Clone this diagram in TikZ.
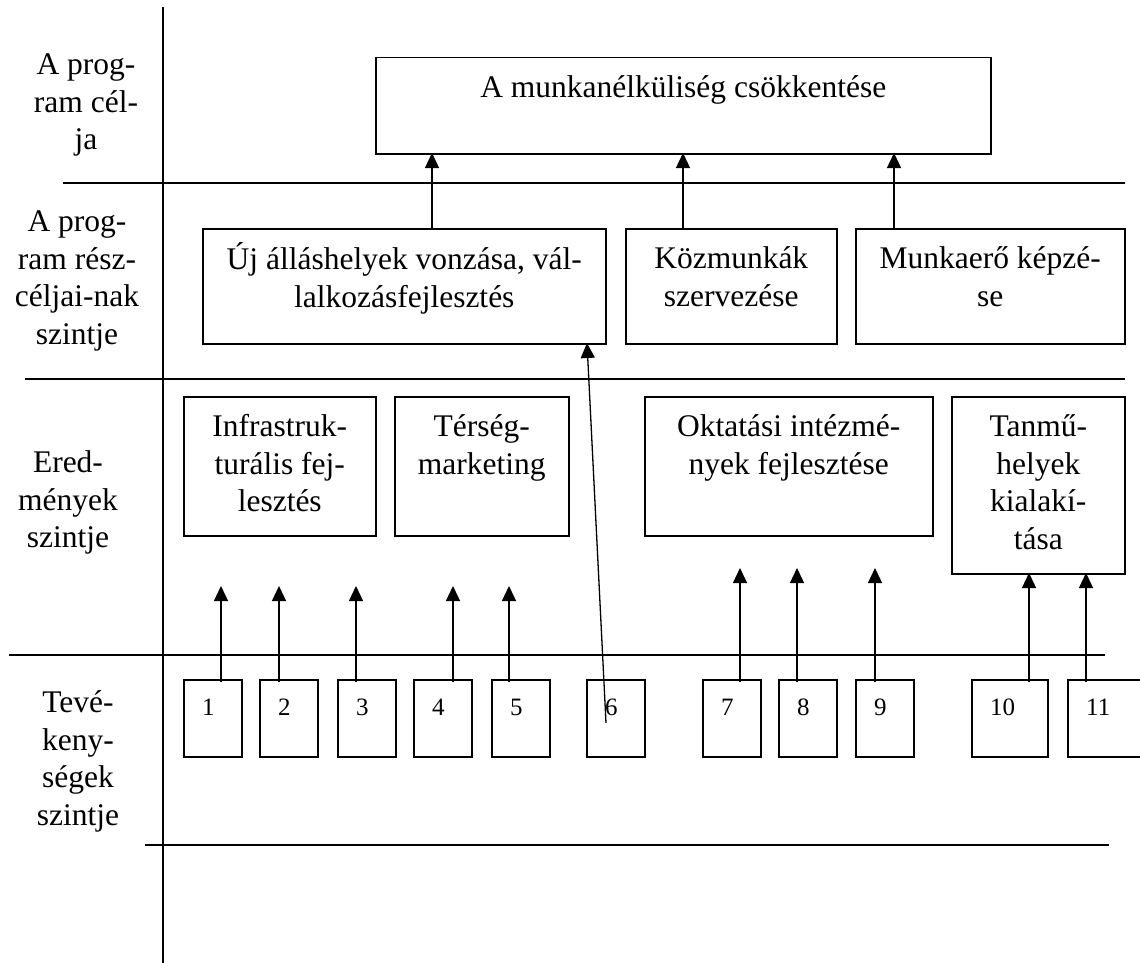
\documentclass[tikz,border=0pt]{standalone}
\usepackage{fontspec}
\setmainfont{Liberation Serif}
\usetikzlibrary{arrows.meta,calc}
\begin{document}
\begin{tikzpicture}[x=1pt,y=-1pt,
  box/.style={draw, line width=1.5pt, anchor=north west, inner sep=0pt},
  txt/.style={anchor=north, align=center, inner sep=0pt, font=\fontsize{31.5}{37.5}\selectfont},
  num/.style={anchor=base west, inner sep=0pt, font=\fontsize{25}{30}\selectfont},
  arr/.style={-{Triangle[width=14pt,length=15pt]}, line width=1.3pt},
  rule/.style={line width=1.3pt}]
\useasboundingbox (0,0) rectangle (1140,963);
\clip (0,0) rectangle (1140,963);
% grid lines
\draw[rule] (163,7) -- (163,963);
\draw[rule] (63,183) -- (1125,183);
\draw[rule] (25,379) -- (1125,379);
\draw[rule] (9,655) -- (1105,655);
\draw[rule] (145,845) -- (1109,845);
% left labels
\node[txt] (l1) at (86,48.5) {\strut A prog-\\ram cél-\\ja};
\node[txt] (l2) at (77,205.5) {\strut A prog-\\ram rész-\\céljai-nak\\szintje};
\node[txt] (l3) at (68,446.5) {\strut Ered-\\mények\\szintje};
\node[txt] (l4) at (78,686.5) {\strut Tevé-\\keny-\\ségek\\szintje};
% goal
\node[box, minimum width=615pt, minimum height=96pt] (goal) at (375,57) {};
\node[txt] (goalt) at ($(goal.north)+(0,14.5)$) {\strut A munkanélküliség csökkentése};
% sub-goals
\node[box, minimum width=403pt, minimum height=115pt] (sA) at (202,228) {};
\node[box, minimum width=211pt, minimum height=115pt] (sB) at (625,228) {};
\node[box, minimum width=269pt, minimum height=115pt] (sC) at (855,228) {};
\node[txt] (sAt) at ($(sA.north)+(0,14.5)$) {\strut Új álláshelyek vonzása, vál-\\lalkozásfejlesztés};
\node[txt] (sBt) at ($(sB.north)+(0,14.5)$) {\strut Közmunkák\\szervezése};
\node[txt] (sCt) at ($(sC.north)+(0,14.5)$) {\strut Munkaerő képzé-\\se};
% results
\node[box, minimum width=192pt, minimum height=139pt] (rInf) at (183,396) {};
\node[box, minimum width=174pt, minimum height=139pt] (rTer) at (394,396) {};
\node[box, minimum width=288pt, minimum height=139pt] (rOkt) at (644,396) {};
\node[box, minimum width=173pt, minimum height=177pt] (rTan) at (951,396) {};
\node[txt] (rInft) at ($(rInf.north)+(0,14.5)$) {\strut Infrastruk-\\turális fej-\\lesztés};
\node[txt] (rTert) at ($(rTer.north)+(0,14.5)$) {\strut Térség-\\marketing};
\node[txt] (rOktt) at ($(rOkt.north)+(0,14.5)$) {\strut Oktatási intézmé-\\nyek fejlesztése};
\node[txt] (rTant) at ($(rTan.north)+(0,14.5)$) {\strut Tanmű-\\helyek\\kialakí-\\tása};
% activities
\foreach \i/\x/\w in {1/183/58, 2/259/58, 3/337/58, 4/413/58, 5/491/58, 6/586/58, 7/702/58, 8/778/58, 9/855/58, 10/971/76, 11/1067/90}{
  \node[box, minimum width=\w pt, minimum height=77pt] (a\i) at (\x,679) {};
  \node[num] (t\i) at ($(a\i.north west)+(19,36)$) {\i};
}
% arrows to goal
\coordinate (g1) at (432,153);
\coordinate (g2) at (683,153);
\coordinate (g3) at (894,153);
\draw[arr] (sA.north -| g1) -- (g1);
\draw[arr] (sB.north -| g2) -- (g2);
\draw[arr] (sC.north -| g3) -- (g3);
% arrows from activities
\coordinate (h1) at (221,586);
\coordinate (h2) at (279,586);
\coordinate (h3) at (356,586);
\coordinate (h4) at (453,586);
\coordinate (h5) at (509,586);
\coordinate (h7) at (740,568);
\coordinate (h8) at (797,568);
\coordinate (h9) at (875,568);
\coordinate (h10) at (1029,573);
\coordinate (h11) at (1086,573);
\foreach \i in {1,2,3,4,5,7,8,9,10,11}{
  \draw[arr] ($(a\i.north -| h\i)+(0,3)$) -- (h\i);
}
\coordinate (s6) at (606,723);
\coordinate (e6) at (587,343);
\draw[arr] (s6) -- (e6);
\end{tikzpicture}
\end{document}
